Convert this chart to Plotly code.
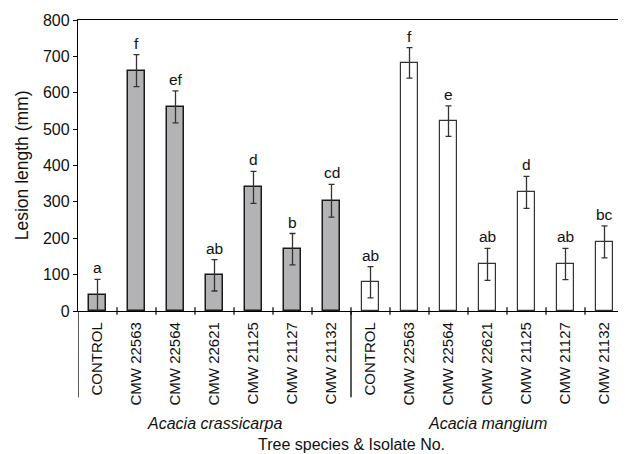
import plotly.graph_objects as go

categories = ["CONTROL", "CMW 22563", "CMW 22564", "CMW 22621", "CMW 21125", "CMW 21127", "CMW 21132"]
species = ["Acacia crassicarpa", "Acacia mangium"]
crassicarpa_vals = [43, 661, 561, 98, 340, 170, 303]
crassicarpa_err = [44, 44, 44, 43, 44, 43, 45]
crassicarpa_letters = ["a", "f", "ef", "ab", "d", "b", "cd"]
mangium_vals = [79, 682, 522, 128, 326, 129, 190]
mangium_err = [43, 42, 42, 44, 44, 43, 44]
mangium_letters = ["ab", "f", "e", "ab", "d", "ab", "bc"]
y_ticks = [0, 100, 200, 300, 400, 500, 600, 700, 800]

FONT = "Liberation Sans, Arial, Helvetica, sans-serif"
n = len(categories)
x_c = [i + 0.5 for i in range(n)]
x_m = [n + i + 0.5 for i in range(n)]

fig = go.Figure()
fig.add_trace(go.Bar(
    x=x_c, y=crassicarpa_vals, width=0.42,
    marker=dict(color="#b3b3b5", line=dict(color="#1a1a1a", width=1.5)),
    error_y=dict(type="data", array=crassicarpa_err, color="#333333", thickness=1.3, width=3),
    showlegend=False,
))
fig.add_trace(go.Bar(
    x=x_m, y=mangium_vals, width=0.42,
    marker=dict(color="white", line=dict(color="#333333", width=1.2)),
    error_y=dict(type="data", array=mangium_err, color="#333333", thickness=1.3, width=3),
    showlegend=False,
))

annotations = []
for xs, vals, errs, letters in [(x_c, crassicarpa_vals, crassicarpa_err, crassicarpa_letters),
                                (x_m, mangium_vals, mangium_err, mangium_letters)]:
    for xv, v, e, l in zip(xs, vals, errs, letters):
        annotations.append(dict(x=xv, y=v + e, xref="x", yref="y", text=l, showarrow=False,
                                xanchor="center", yanchor="bottom", yshift=1,
                                font=dict(size=15.5, color="#111", family=FONT)))

annotations.append(dict(x=n / 2, y=-0.388, xref="x", yref="paper", text="<i>" + species[0] + "</i>",
                        xanchor="center", yanchor="middle", showarrow=False,
                        font=dict(size=16, color="#111", family=FONT)))
annotations.append(dict(x=n + n / 2, y=-0.388, xref="x", yref="paper", text="<i>" + species[1] + "</i>",
                        xanchor="center", yanchor="middle", showarrow=False,
                        font=dict(size=16, color="#111", family=FONT)))
annotations.append(dict(x=n, y=-0.458, xref="x", yref="paper", text="Tree species & Isolate No.",
                        xanchor="center", yanchor="middle", showarrow=False,
                        font=dict(size=16, color="#111", family=FONT)))
annotations.append(dict(x=-0.103, y=0.5, xref="paper", yref="paper", text="Lesion length (mm)",
                        xanchor="center", yanchor="middle", textangle=-90, showarrow=False,
                        font=dict(size=17.5, color="#111", family=FONT)))

shapes = []
for xb in [0, n, 2 * n]:
    shapes.append(dict(type="line", xref="x", yref="paper", x0=xb, x1=xb, y0=0, y1=-0.296,
                       line=dict(color="black", width=1.3)))
for xb in range(1, 2 * n):
    shapes.append(dict(type="line", xref="x", yref="paper", x0=xb, x1=xb, y0=-0.013, y1=0.013,
                       line=dict(color="black", width=1.2)))

# page body adds an 8px offset; compensate so the plot area lands where the reference has it
fig.update_layout(
    width=618, height=446,
    margin=dict(l=70, r=2, t=12, b=143),
    paper_bgcolor="white", plot_bgcolor="white",
    annotations=annotations, shapes=shapes,
    font=dict(family=FONT, color="#111"),
    bargap=0,
)
fig.update_xaxes(
    range=[0, 2 * n], tickmode="array", tickvals=x_c + x_m, ticktext=categories + categories,
    tickangle=-90, ticks="outside", ticklen=4, tickcolor="rgba(0,0,0,0)",
    tickfont=dict(size=15, family=FONT, color="#111"),
    showline=True, linecolor="black", linewidth=1.3, mirror=True, showgrid=False, zeroline=False,
)
fig.update_yaxes(
    range=[0, 800], tickmode="array", tickvals=y_ticks, ticks="outside", ticklen=4, tickcolor="black",
    tickfont=dict(size=16, family=FONT, color="#111"),
    showline=True, linecolor="black", linewidth=1.3, mirror=True, showgrid=False, zeroline=False,
)
fig.write_html("out.html")
